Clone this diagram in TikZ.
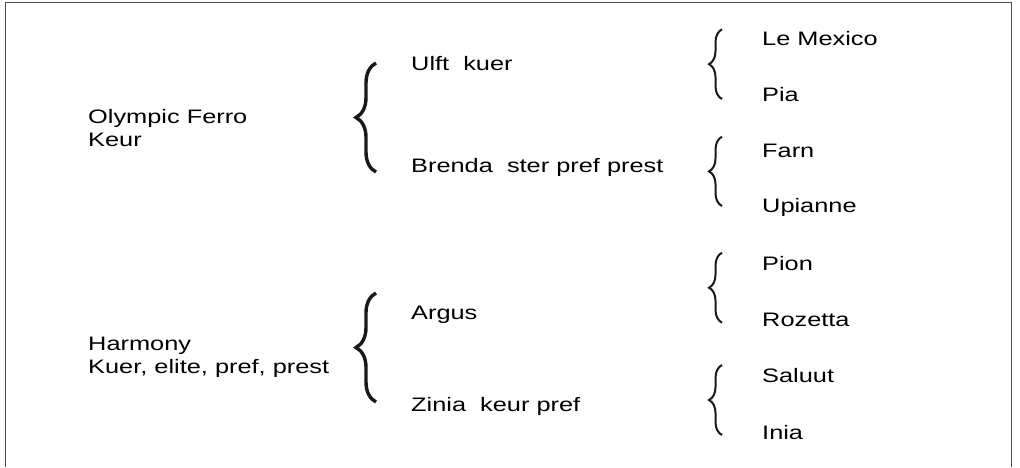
\documentclass[tikz,border=0pt]{standalone}
\usepackage{fontspec}
\setmainfont{Liberation Sans}[FakeStretch=1.3]
\usetikzlibrary{decorations.pathreplacing,positioning}
\tikzset{
    frame/.style = {
        draw = black!70,
        line width = 1.5pt,
        },
    entry/.style = {
        anchor = base west,
        inner sep = 0pt,
        align = left,
        text = black,
        font = \fontsize{19.5}{23.4}\selectfont,
        },
    big brace/.style = {
        decorate,
        decoration = {brace, amplitude=20pt},
        line width = 3.4pt,
        draw = black!90,
        },
    small brace/.style = {
        decorate,
        decoration = {brace, amplitude=13pt},
        line width = 2pt,
        draw = black!90,
        },
}
\begin{document}
\begin{tikzpicture}[x=1pt, y=-1pt]
            \useasboundingbox (0,0) rectangle (1020,467);
            \draw[frame] (5.5,467) -- (5.5,2.5) -- (1011.5,2.5) -- (1011.5,467);

            % first column (base = last line)
            \node[entry] (olympic) at (88,146.7) {Olympic Ferro\\Keur};
            \node[entry] (harmony) at (88,373.5) {Harmony\\Kuer, elite, pref, prest};

            % second column
            \node[entry] (ulft) at (411,70) {Ulft~~kuer};
            \node[entry] (brenda) at (411,172.7) {Brenda~~ster pref prest};
            \node[entry] (argus) at (411,319.3) {Argus};
            \node[entry] (zinia) at (411,411.7) {Zinia~~keur pref};

            % third column
            \node[entry] (mexico) at (762,45) {Le Mexico};
            \node[entry] (pia) at (762,101) {Pia};
            \node[entry] (farn) at (762,157.3) {Farn};
            \node[entry] (upianne) at (762,212.3) {Upianne};
            \node[entry] (pion) at (762,270.7) {Pion};
            \node[entry] (rozetta) at (762,326) {Rozetta};
            \node[entry] (saluut) at (762,382.3) {Saluut};
            \node[entry] (inia) at (762,439.3) {Inia};

            % braces
            \draw[big brace] (376,172) -- (376,63);
            \draw[big brace] (376,402) -- (376,293);
            \draw[small brace] (722,99) -- (722,29.3);
            \draw[small brace] (722,206) -- (722,136.7);
            \draw[small brace] (722,322.7) -- (722,252.7);
            \draw[small brace] (722,435) -- (722,365);
        \end{tikzpicture}
\end{document}
